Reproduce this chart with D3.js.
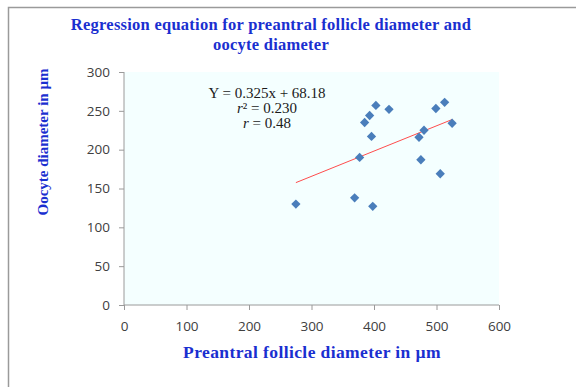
<!DOCTYPE html>
<html>
<head>
<meta charset="utf-8">
<script src="https://cdn.jsdelivr.net/npm/d3@7"></script>
<style>
  body { margin: 0; background: #fff; }
  svg { display: block; }
</style>
</head>
<body>
<div id="chart"></div>
<script>
// follicle diameter (x) vs oocyte diameter (y), both in µm
const follicle = [275, 369, 398, 377, 396, 385, 393, 403, 424, 472, 480, 475, 506, 499, 513, 525];
const oocyte   = [130, 138, 127, 190, 217, 235, 244, 257, 252, 216, 225, 187, 169, 253, 261, 234];

const xTicks = [0, 100, 200, 300, 400, 500, 600];
const yTicks = [0, 50, 100, 150, 200, 250, 300];

const slope = 0.325, intercept = 68.18;
const eqLines = ["Y = 0.325x + 68.18", "r² = 0.230", "r = 0.48"];

const titleLines = ["Regression equation for preantral follicle diameter and", "oocyte diameter"];
const xTitle = "Preantral follicle diameter in µm";
const yTitle = "Oocyte diameter in µm";

const W = 576, H = 387;
const margin = { top: 72, right: 77, bottom: 82, left: 124 };
const width = W - margin.left - margin.right,
      height = H - margin.top - margin.bottom;

const svg = d3.select("#chart").append("svg")
    .attr("width", W)
    .attr("height", H);

// outer chart border (left + top visible)
svg.append("rect")
    .attr("x", 8.5).attr("y", 7.5)
    .attr("width", 600).attr("height", 400)
    .attr("fill", "none")
    .attr("stroke", "#9a9a9a")
    .attr("stroke-width", 1.5);

const blue = "#1a2fd0";

svg.append("g").selectAll("text")
  .data(titleLines)
  .enter().append("text")
    .attr("x", 271)
    .attr("y", (d, i) => 30 + i * 20)
    .attr("text-anchor", "middle")
    .attr("font-family", "Liberation Serif, serif")
    .attr("font-weight", "bold")
    .attr("font-size", 16.5)
    .attr("letter-spacing", 0.25)
    .attr("fill", blue)
    .text(d => d);

const g = svg.append("g")
    .attr("transform", `translate(${margin.left},${margin.top})`);

const x = d3.scaleLinear().domain([0, 600]).range([0, width]);
const y = d3.scaleLinear().domain([0, 300]).range([height, 0]);

g.append("rect")
    .attr("width", width)
    .attr("height", height)
    .attr("fill", "#f4ffff");

// axes
const xAxis = g.append("g")
    .attr("transform", `translate(0,${height})`)
    .call(d3.axisBottom(x).tickValues(xTicks).tickSize(5).tickPadding(11));
const yAxis = g.append("g")
    .call(d3.axisLeft(y).tickValues(yTicks).tickSize(5).tickPadding(9));

[xAxis, yAxis].forEach(a => {
  a.selectAll("path, line").attr("stroke", "#9a9a9a");
  a.select(".domain").attr("d", a === xAxis ? `M0,0H${width}` : `M0,0V${height}`);
  a.selectAll("text")
    .attr("font-family", "Open Sans, sans-serif")
    .attr("font-size", 13.5)
    .attr("fill", "#404040");
});

// regression line over data range
const xr = d3.extent(follicle);
g.append("line")
    .attr("x1", x(xr[0])).attr("y1", y(slope * xr[0] + intercept))
    .attr("x2", x(xr[1])).attr("y2", y(slope * xr[1] + intercept))
    .attr("stroke", "#ff4d4d")
    .attr("stroke-width", 1);

// points
const diamond = d3.symbol().type(d3.symbolDiamond2).size(55);
g.selectAll(".pt")
  .data(follicle.map((v, i) => [v, oocyte[i]]))
  .enter().append("path")
    .attr("class", "pt")
    .attr("d", diamond)
    .attr("transform", d => `translate(${x(d[0])},${y(d[1])})`)
    .attr("fill", "#4a7ebb");

// equation box
const eq = g.append("text")
    .attr("font-family", "Liberation Serif, serif")
    .attr("font-size", 15)
    .attr("fill", "#1a1a1a")
    .attr("text-anchor", "middle");
eq.append("tspan").attr("x", 143).attr("y", 26).text(eqLines[0]);
const l2 = eq.append("tspan").attr("x", 143).attr("y", 41);
l2.append("tspan").attr("font-style", "italic").text("r");
l2.append("tspan").text(eqLines[1].slice(1));
const l3 = eq.append("tspan").attr("x", 143).attr("y", 56);
l3.append("tspan").attr("font-style", "italic").text("r");
l3.append("tspan").text(eqLines[2].slice(1));

// axis titles
svg.append("text")
    .attr("x", 312)
    .attr("y", 358)
    .attr("text-anchor", "middle")
    .attr("font-family", "Liberation Serif, serif")
    .attr("font-weight", "bold")
    .attr("font-size", 17.5)
    .attr("letter-spacing", 0.4)
    .attr("fill", blue)
    .text(xTitle);

svg.append("text")
    .attr("transform", "translate(48,142) rotate(-90)")
    .attr("text-anchor", "middle")
    .attr("font-family", "Liberation Serif, serif")
    .attr("font-weight", "bold")
    .attr("font-size", 15)
    .attr("fill", blue)
    .text(yTitle);
</script>
</body>
</html>
